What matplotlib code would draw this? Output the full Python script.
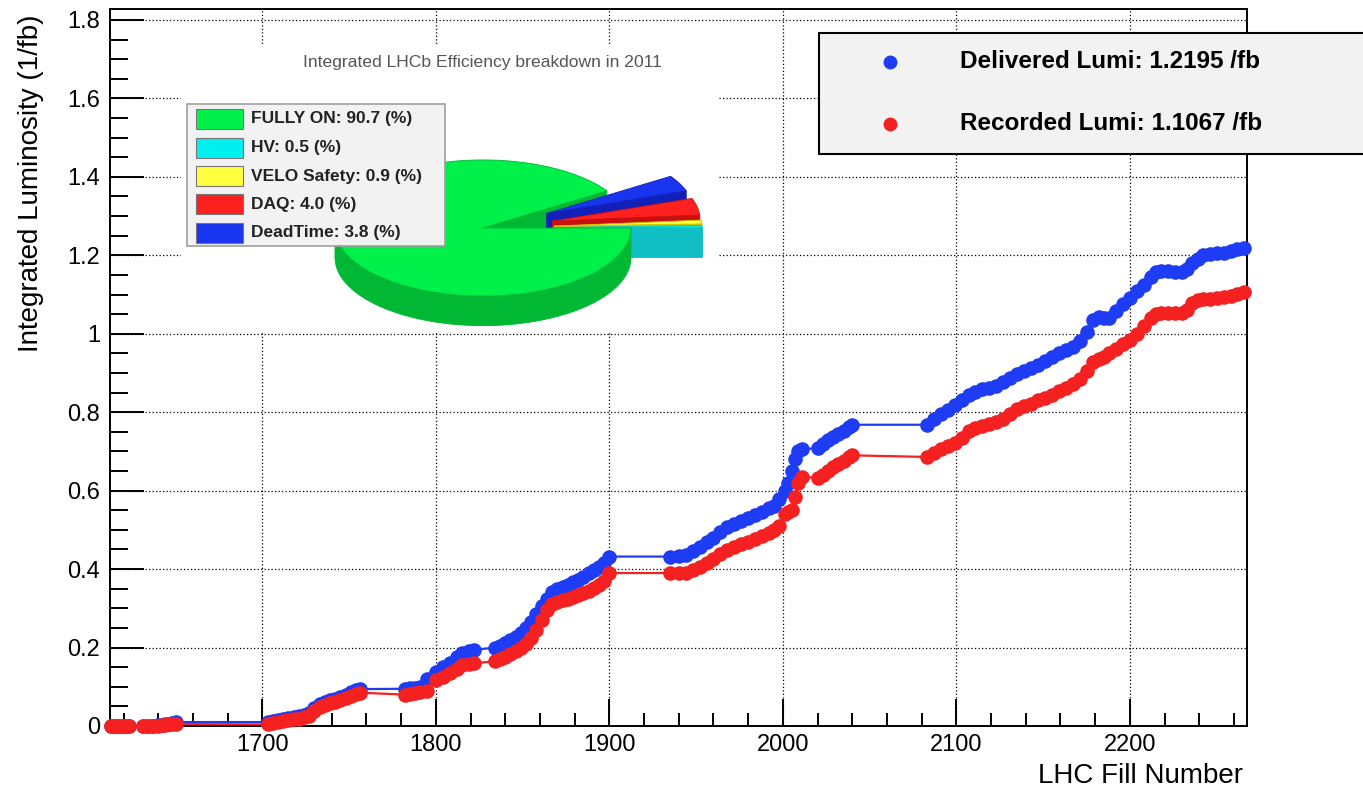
import numpy as np
import matplotlib.pyplot as plt
from matplotlib.patches import Polygon, Rectangle
from matplotlib.lines import Line2D

plt.rcParams['font.family'] = ['Liberation Sans', 'DejaVu Sans']

# integrated luminosity per LHC fill, 2011 (1/fb)
fills = [1613, 1615, 1617, 1619, 1621, 1623,
         1631, 1634, 1637, 1640, 1642, 1644, 1646, 1648, 1650,
         1703, 1706, 1709, 1712, 1715, 1718, 1721, 1724, 1727, 1730, 1733, 1736, 1739, 1742, 1745, 1748, 1751, 1754, 1756,
         1782, 1785, 1788, 1791, 1795, 1800, 1804, 1808, 1812, 1815, 1819, 1822,
         1834, 1837, 1840, 1843, 1846, 1849, 1852, 1855, 1858, 1861, 1864, 1867, 1870, 1873, 1876, 1879, 1882, 1885, 1888, 1891, 1894, 1897, 1900,
         1935, 1940, 1944, 1948, 1952, 1956, 1960, 1964, 1968, 1972, 1976, 1980, 1984, 1988, 1992, 1995, 1998, 2001, 2003, 2005, 2007, 2009, 2011,
         2020, 2023, 2026, 2029, 2032, 2035, 2038, 2040,
         2083, 2087, 2091, 2095, 2099, 2103, 2107, 2111, 2115, 2119, 2123, 2127, 2131, 2135, 2139, 2143, 2147, 2151, 2155, 2159,
         2163, 2167, 2171, 2175, 2179, 2182, 2185, 2188, 2192, 2196, 2200, 2204, 2208, 2212, 2215, 2218, 2222, 2226, 2230, 2233,
         2236, 2239, 2242, 2246, 2250, 2254, 2258, 2262, 2266]

delivered = [0, 0, 0, 0, 0, 0,
             0, 0, 0.001, 0.002, 0.003, 0.004, 0.006, 0.008, 0.010,
             0.010, 0.012, 0.015, 0.018, 0.020, 0.022, 0.025, 0.028, 0.032, 0.045, 0.055, 0.060, 0.066, 0.070, 0.075, 0.080, 0.086, 0.091, 0.094,
             0.095, 0.096, 0.097, 0.100, 0.120, 0.138, 0.150, 0.160, 0.175, 0.186, 0.190, 0.194,
             0.200, 0.205, 0.212, 0.220, 0.228, 0.238, 0.250, 0.265, 0.285, 0.305, 0.325, 0.342, 0.350, 0.355, 0.360, 0.366, 0.372, 0.380, 0.390, 0.398, 0.405, 0.415, 0.432,
             0.432, 0.433, 0.435, 0.445, 0.457, 0.468, 0.480, 0.495, 0.508, 0.515, 0.522, 0.530, 0.538, 0.545, 0.555, 0.562, 0.580, 0.600, 0.620, 0.650, 0.680, 0.700, 0.705,
             0.709, 0.718, 0.728, 0.737, 0.745, 0.752, 0.762, 0.768,
             0.768, 0.782, 0.795, 0.805, 0.818, 0.832, 0.845, 0.852, 0.858, 0.862, 0.868, 0.876, 0.888, 0.898, 0.905, 0.912, 0.920, 0.930, 0.940, 0.950,
             0.958, 0.967, 0.982, 1.005, 1.035, 1.042, 1.040, 1.040, 1.058, 1.075, 1.092, 1.108, 1.125, 1.145, 1.158, 1.160, 1.160, 1.158, 1.158, 1.165,
             1.180, 1.190, 1.200, 1.203, 1.205, 1.207, 1.210, 1.215, 1.2195]

recorded = [0, 0, 0, 0, 0, 0,
            0, 0, 0.001, 0.001, 0.002, 0.003, 0.004, 0.005, 0.005,
            0.004, 0.007, 0.010, 0.013, 0.015, 0.017, 0.019, 0.022, 0.026, 0.038, 0.048, 0.053, 0.058, 0.062, 0.067, 0.072, 0.077, 0.082, 0.085,
            0.080, 0.082, 0.084, 0.086, 0.088, 0.117, 0.126, 0.135, 0.146, 0.156, 0.158, 0.160,
            0.165, 0.170, 0.176, 0.183, 0.190, 0.198, 0.210, 0.225, 0.245, 0.270, 0.295, 0.310, 0.316, 0.320, 0.324, 0.328, 0.333, 0.338, 0.345, 0.352, 0.360, 0.370, 0.390,
            0.390, 0.390, 0.391, 0.398, 0.406, 0.415, 0.425, 0.438, 0.449, 0.456, 0.463, 0.470, 0.477, 0.484, 0.492, 0.500, 0.510, 0.540, 0.545, 0.550, 0.585, 0.620, 0.635,
            0.633, 0.640, 0.650, 0.660, 0.668, 0.676, 0.686, 0.690,
            0.686, 0.695, 0.705, 0.713, 0.722, 0.735, 0.752, 0.760, 0.765, 0.770, 0.775, 0.782, 0.795, 0.808, 0.815, 0.822, 0.830, 0.836, 0.843, 0.853,
            0.862, 0.872, 0.885, 0.905, 0.928, 0.935, 0.940, 0.950, 0.962, 0.975, 0.985, 1.000, 1.020, 1.040, 1.050, 1.052, 1.052, 1.052, 1.053, 1.060,
            1.078, 1.087, 1.088, 1.088, 1.090, 1.093, 1.097, 1.102, 1.1067]

x_ticks = [1700, 1800, 1900, 2000, 2100, 2200]
y_ticks = [0, 0.2, 0.4, 0.6, 0.8, 1.0, 1.2, 1.4, 1.6, 1.8]
y_ticklabels = ['0', '0.2', '0.4', '0.6', '0.8', '1', '1.2', '1.4', '1.6', '1.8']

# efficiency breakdown (%), in the order the slices go round the pie
pie_labels = ['HV', 'VELO Safety', 'DAQ', 'DeadTime', 'FULLY ON']
pie_values = [0.5, 0.9, 4.0, 3.8, 90.7]
pie_top = ['#00f0f0', '#ffff40', '#ff2020', '#1a35f0', '#00f04a']
pie_side = ['#10bfc4', '#c8c800', '#c81010', '#1020b8', '#00b834']
legend_order = ['FULLY ON', 'HV', 'VELO Safety', 'DAQ', 'DeadTime']

BLUE = '#1f3cf5'
RED = '#f52020'

W, H = 1363, 792
def fx(px):
    return px / W
def fy(py):
    return 1 - py / H

fig = plt.figure(figsize=(W / 100, H / 100), dpi=100)
ax = fig.add_axes([fx(110), fy(726), fx(1247) - fx(110), fy(9) - fy(726)])

ax.plot(fills, delivered, '-', color=BLUE, lw=1.6, marker='o', ms=10.5, mec='none', mfc=BLUE, zorder=3, clip_on=False)
ax.plot(fills, recorded, '-', color=RED, lw=1.6, marker='o', ms=10.5, mec='none', mfc=RED, zorder=4, clip_on=False)

ax.set_xlim(1612.2, 2267.5)
ax.set_ylim(0, 1.828)
ax.set_xticks(x_ticks)
ax.set_xticklabels([str(v) for v in x_ticks])
ax.set_xticks(np.arange(1620, 2267, 20), minor=True)
ax.set_yticks(y_ticks)
ax.set_yticklabels(y_ticklabels)
ax.set_yticks(np.arange(0.05, 1.80, 0.05), minor=True)
ax.tick_params(axis='x', which='major', direction='in', length=19.5, width=1.4, labelsize=17, pad=6)
ax.tick_params(axis='x', which='minor', direction='in', length=9.5, width=1.4)
ax.tick_params(axis='y', which='major', direction='in', length=24.5, width=1.4, labelsize=17, pad=7)
ax.tick_params(axis='y', which='minor', direction='in', length=13, width=1.4)
ax.tick_params(which='both', top=False, right=False)
for s in ax.spines.values():
    s.set_linewidth(1.4)
ax.grid(True, which='major', color='black', linestyle=(0, (1, 1.8)), linewidth=0.9)
ax.set_axisbelow(False)

fig.text(fx(31), fy(183), 'Integrated Luminosity (1/fb)', rotation=90, ha='center', va='center', fontsize=20)
fig.text(fx(1243), fy(776), 'LHC Fill Number', ha='right', va='center', fontsize=20)

# luminosity legend, runs past the right edge
fig.patches.append(Rectangle((fx(819), fy(154)), fx(700), fy(33) - fy(154), transform=fig.transFigure,
                             facecolor='#f2f2f2', edgecolor='black', lw=1.5, zorder=5))
for row, (col, txt) in enumerate([(BLUE, f'Delivered Lumi: {delivered[-1]:.4f} /fb'),
                                  (RED, f'Recorded Lumi: {recorded[-1]:.4f} /fb')]):
    yy = 62 + row * 62
    fig.lines.append(Line2D([fx(890)], [fy(yy)], transform=fig.transFigure, marker='o', ms=10,
                            mec='none', mfc=col, zorder=6))
    fig.text(fx(960), fy(yy), txt, ha='left', va='center', fontsize=17.5, fontweight='bold', zorder=6)

# 3D efficiency pie on its own white pad
pax = fig.add_axes([fx(181), fy(333), fx(718) - fx(181), fy(45) - fy(333)])
pax.set_facecolor('white')
pax.set_xticks([])
pax.set_yticks([])
for s in pax.spines.values():
    s.set_visible(False)
R_Y = 0.46
DEPTH = 0.2
EXPLODE = 0.48
pax.set_xlim((181 - 483) / 148, (718 - 483) / 148)
pax.set_ylim((228 - 333) / 148, (228 - 45) / 148)

total = sum(pie_values)
bounds = np.concatenate([[0], np.cumsum(pie_values)]) / total * 2 * np.pi

def rim(t, off):
    return np.column_stack([np.cos(t) + off[0], R_Y * np.sin(t) + off[1]])

def radial_face(t, off, col):
    p = rim(np.array([t]), off)[0]
    c = np.array(off)
    pts = [c, p, p - [0, DEPTH], c - [0, DEPTH]]
    pax.add_patch(Polygon(pts, closed=True, facecolor=col, edgecolor=col, lw=0.6))

def outer_side(t1, t2, off, col):
    lo, hi = max(t1, np.pi), min(t2, 2 * np.pi)
    if hi <= lo:
        return
    t = np.linspace(lo, hi, 80)
    top = rim(t, off)
    bot = top[::-1] - [0, DEPTH]
    pax.add_patch(Polygon(np.vstack([top, bot]), closed=True, facecolor=col, edgecolor=col, lw=0.6))

def top_face(t1, t2, off, col, edge):
    t = np.linspace(t1, t2, 120)
    pts = np.vstack([[off], rim(t, off)])
    pax.add_patch(Polygon(pts, closed=True, facecolor=col, edgecolor=edge, lw=0.6))

slices = []
for i in range(len(pie_values)):
    t1, t2 = bounds[i], bounds[i + 1]
    mid = (t1 + t2) / 2
    ex = 0 if pie_labels[i] == 'FULLY ON' else EXPLODE
    off = (ex * np.cos(mid), ex * R_Y * np.sin(mid))
    slices.append((t1, t2, off, pie_top[i], pie_side[i]))

big = slices[-1]
if np.cos(big[0]) > 0:
    radial_face(big[0], big[2], big[4])
# small exploded slices, back to front
for t1, t2, off, ctop, cside in reversed(slices[:-1]):
    outer_side(t1, t2, off, cside)
    if np.cos(t1) > 0:
        radial_face(t1, off, cside)
    top_face(t1, t2, off, ctop, cside)
outer_side(big[0], big[1], big[2], big[4])
top_face(big[0], big[1], big[2], big[3], big[4])

fig.text(fx(482), fy(62), 'Integrated LHCb Efficiency breakdown in 2011', ha='center', va='center',
         fontsize=12.6, color='#555555')

# pie legend
fig.patches.append(Rectangle((fx(187), fy(246)), fx(445) - fx(187), fy(104) - fy(246), transform=fig.transFigure,
                             facecolor='#f2f2f2', edgecolor='#a0a0a0', lw=1.2, zorder=7))
for row, name in enumerate(legend_order):
    i = pie_labels.index(name)
    yy = 119 + row * 28.5
    fig.patches.append(Rectangle((fx(196), fy(yy + 10)), fx(243) - fx(196), fy(yy - 10) - fy(yy + 10),
                                 transform=fig.transFigure, facecolor=pie_top[i], edgecolor='#777777',
                                 lw=0.8, zorder=8))
    fig.text(fx(251), fy(yy), f'{name}: {pie_values[i]:.1f} (%)', ha='left', va='center',
             fontsize=12.5, fontweight='bold', color='#222222', zorder=8)

fig.savefig('out.png', dpi=100)
